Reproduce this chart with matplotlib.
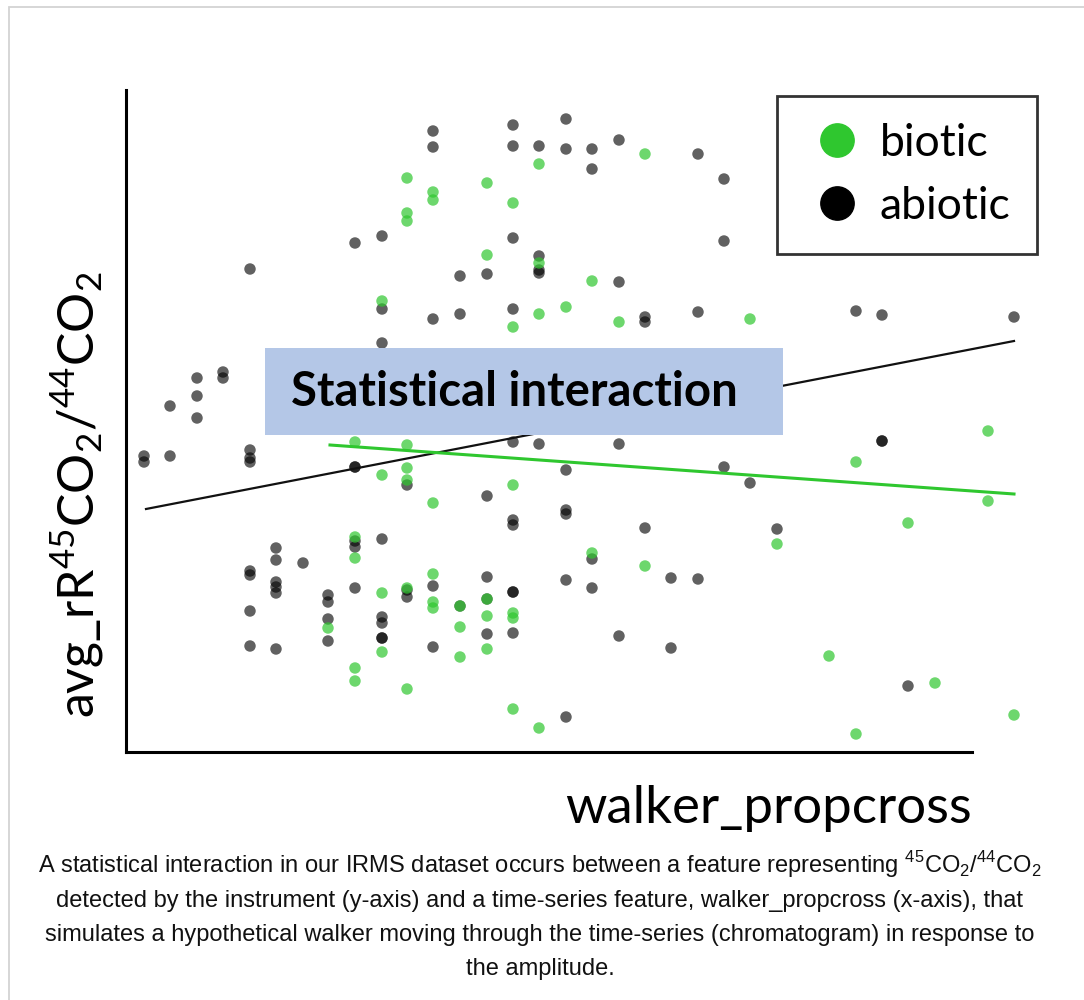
import numpy as np
import matplotlib
matplotlib.use("Agg")
import matplotlib.pyplot as plt
from matplotlib.lines import Line2D
from matplotlib.patches import Rectangle

# values (arbitrary units, no ticks on the original)
abiotic_x = [307, 307, 387, 387, 413, 440, 440, 229, 256, 124, 334, 361, 387, 413, 413, 413,
             256, 307, 334, 387, 256, 71, 97, 97, 71, 44, 71, 18, 18, 44, 124, 124, 124, 229, 229,
             281, 387, 413, 440, 361, 387, 387, 440, 440, 229, 229, 256, 150, 150, 177, 124, 124,
             150, 150, 150, 124, 229, 202, 202, 202, 202, 281, 281, 307, 334, 361, 361, 387, 387,
             361, 387, 256, 256, 256, 256, 124, 150, 307, 440, 440, 466, 466, 493, 572, 598, 598,
             493, 519, 519, 572, 730, 756, 888, 493, 598, 624, 756, 756, 519, 651, 466, 466, 545,
             572, 493, 545, 782]
abiotic_y = [621, 605, 627, 606, 606, 633, 603, 509, 516, 483, 476, 478, 514, 496, 482, 479,
             443, 433, 438, 443, 409, 374, 380, 374, 356, 346, 334, 296, 290, 296, 302, 294, 290, 285, 285,
             267, 310, 308, 282, 256, 232, 227, 242, 238, 211, 205, 213, 204, 192, 189, 181, 177,
             170, 165, 159, 141, 164, 157, 150, 133, 111, 162, 155, 166, 146, 175, 153, 160, 160,
             118, 119, 135, 129, 114, 114, 106, 103, 105, 172, 35, 603, 583, 612, 598, 573, 511,
             470, 435, 430, 440, 441, 437, 435, 308, 285, 269, 311, 311, 224, 223, 193, 164, 174,
             173, 116, 104, 66]

biotic_x = [281, 281, 281, 307, 307, 361, 387, 413, 361, 413, 256, 387, 413, 440, 519, 466,
            493, 624, 229, 281, 256, 281, 281, 307, 387, 229, 229, 256, 281, 307, 307, 307, 334,
            334, 361, 361, 387, 387, 202, 256, 334, 361, 229, 229, 281, 387, 413, 862, 730, 862,
            782, 651, 466, 519, 703, 809, 888, 730]
biotic_y = [574, 539, 531, 560, 552, 569, 549, 588, 497, 489, 451, 425, 438, 445, 598, 471,
            430, 433, 310, 307, 277, 284, 272, 249, 267, 215, 194, 159, 164, 178, 150, 144, 146,
            125, 153, 136, 139, 134, 124, 100, 95, 103, 84, 71, 63, 43, 24, 321, 290, 251,
            229, 208, 199, 186, 96, 69, 37, 18]

# fitted lines (end points)
abiotic_fit_x = [20, 888]
abiotic_fit_y = [243, 411]
biotic_fit_x = [204, 888]
biotic_fit_y = [307, 258]

legend_labels = ["biotic", "abiotic"]
ylabel = "avg_rR$^{\\mathregular{45}}$CO$_{\\mathregular{2}}$/$^{\\mathregular{44}}$CO$_{\\mathregular{2}}$"
xlabel = "walker_propcross"
box_text = "Statistical interaction"
caption = [
    "A statistical interaction in our IRMS dataset occurs between a feature representing "
    "$^{\\mathregular{45}}$CO$_{\\mathregular{2}}$/$^{\\mathregular{44}}$CO$_{\\mathregular{2}}$",
    "detected by the instrument (y-axis) and a time-series feature, walker_propcross (x-axis), that",
    "simulates a hypothetical walker moving through the time-series (chromatogram) in response to",
    "the amplitude.",
]

green = "#2fc72f"
W, H = 1084, 1000

fig = plt.figure(figsize=(W / 100, H / 100), dpi=100)
fig.patch.set_facecolor("white")

# light frame around the whole figure
fig.add_artist(Rectangle((9 / W, -0.05), 1.2, 1 - 7 / H + 0.05, transform=fig.transFigure,
                         fill=False, edgecolor="#d3d3d3", lw=1.3))

ax = fig.add_axes([126 / W, 248 / H, (1040 - 126) / W, 662 / H])
ax.set_xlim(0, 914)
ax.set_ylim(0, 662)
ax.set_xticks([])
ax.set_yticks([])
for s in ["top", "right"]:
    ax.spines[s].set_visible(False)
for s in ["left", "bottom"]:
    ax.spines[s].set_linewidth(2.2)
    ax.spines[s].set_color("black")
ax.spines["bottom"].set_bounds(0, 846)

ax.scatter(abiotic_x, abiotic_y, s=68, color="black", alpha=0.62, edgecolors="none", zorder=2)
ax.scatter(biotic_x, biotic_y, s=68, color=green, alpha=0.7, edgecolors="none", zorder=2)

ax.plot(abiotic_fit_x, abiotic_fit_y, color="#111111", lw=1.6, zorder=3)
ax.plot(biotic_fit_x, biotic_fit_y, color=green, lw=2.2, zorder=3)

# highlight box
ax.add_patch(Rectangle((139, 317), 518, 87, facecolor="#b4c7e7", edgecolor="none", zorder=4))
ax.text(165, 360, box_text, fontsize=34, fontweight="bold", family="Lato",
        ha="left", va="center", zorder=5, color="black")

handles = [Line2D([], [], ls="none", marker="o", markersize=24, color=green),
           Line2D([], [], ls="none", marker="o", markersize=24, color="black")]
leg = ax.legend(handles, legend_labels, loc="upper right", bbox_to_anchor=(1037 / W, 1 - 96 / H),
                bbox_transform=fig.transFigure, frameon=True, fancybox=False,
                prop={"family": "Lato", "size": 32}, handlelength=1.5, handletextpad=0.2,
                labelspacing=0.5, borderpad=0.6, borderaxespad=0)
leg.get_frame().set_edgecolor("black")
leg.get_frame().set_linewidth(2.0)
leg.set_zorder(6)

fig.text(77 / W, 1 - 495 / H, ylabel, rotation=90, family="Lato", fontsize=36,
         ha="center", va="center")
fig.text(768 / W, 1 - 823 / H, xlabel, family="Lato", fontsize=38, ha="center", va="baseline")

for i, line in enumerate(caption):
    fig.text(540 / W, 1 - (873 + 34 * i) / H, line, family="Liberation Sans", fontsize=17,
             ha="center", va="baseline", color="#111111")

fig.savefig("out.png", dpi=100)
